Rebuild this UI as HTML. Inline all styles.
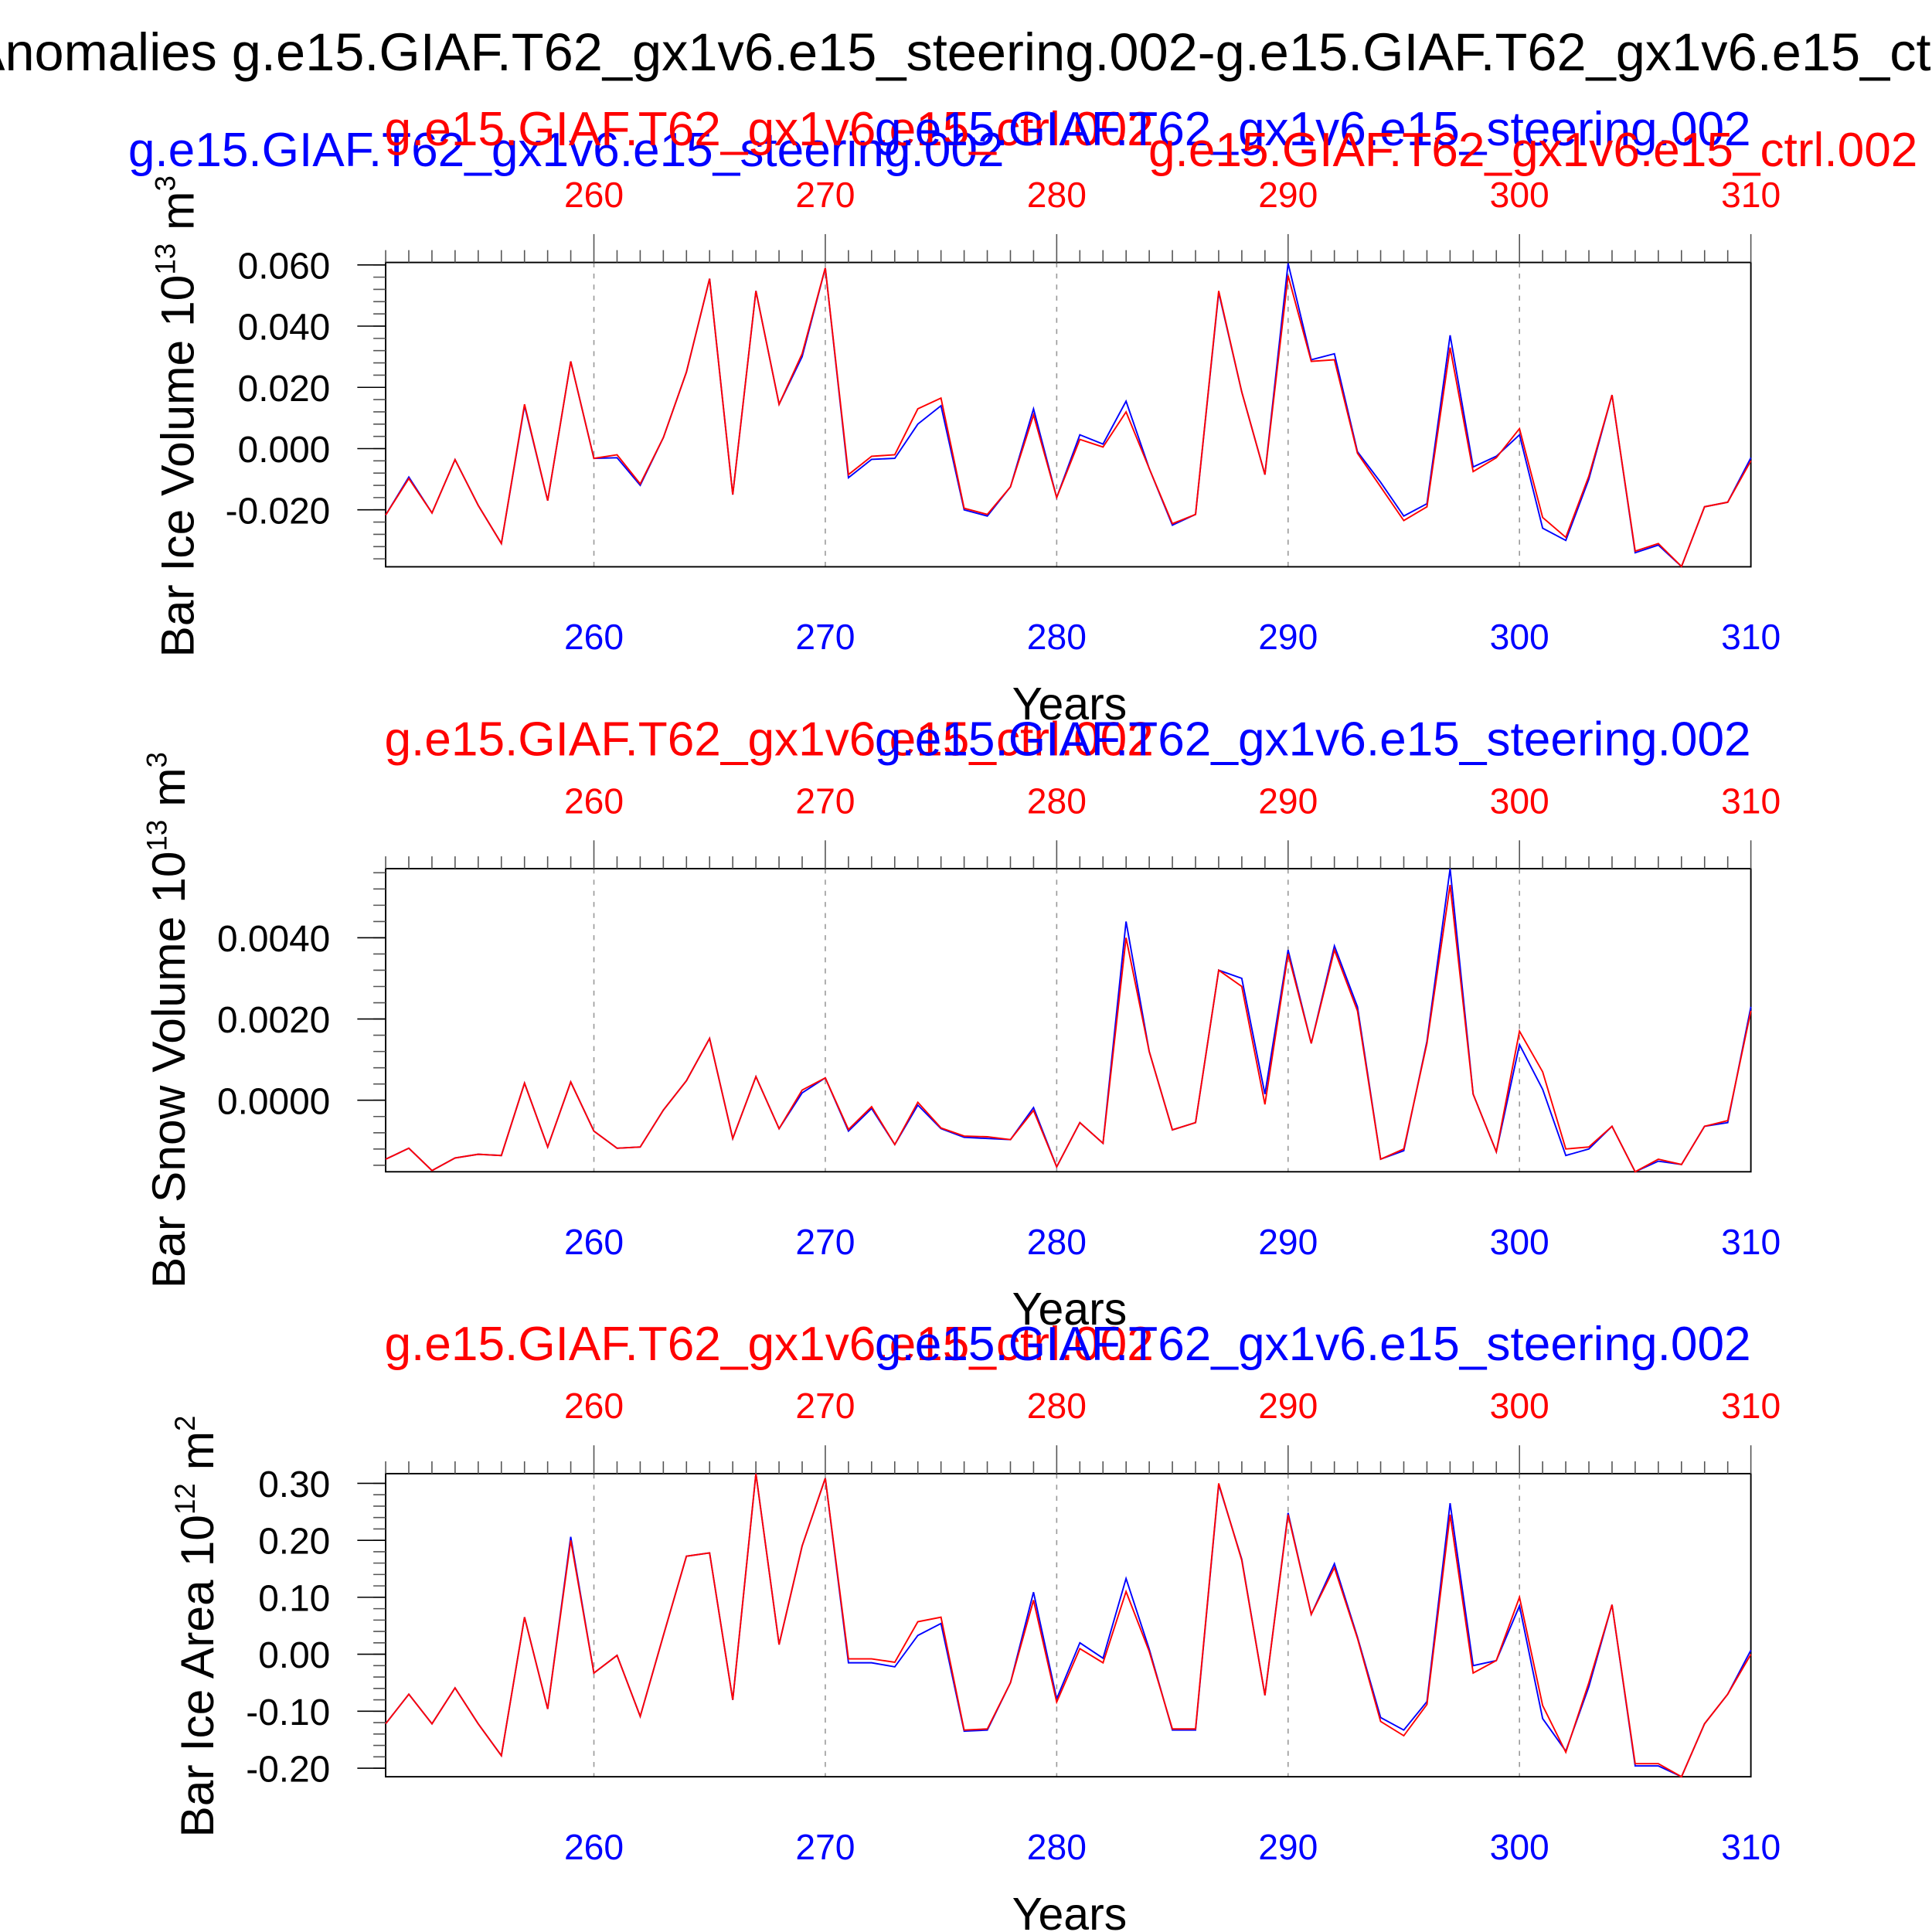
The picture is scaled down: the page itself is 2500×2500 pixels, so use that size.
<!DOCTYPE html>
<html><head><meta charset="utf-8"><style>
html,body{margin:0;padding:0;background:#fff}
svg{display:block}
text{font-family:"Liberation Sans",Arial,sans-serif}
</style></head><body>
<svg id="chart" width="2500" height="2500" viewBox="0 0 1568 1568" xmlns="http://www.w3.org/2000/svg">
<text x="825" y="57" font-size="43" text-anchor="middle">Anomalies g.e15.GIAF.T62_gx1v6.e15_steering.002-g.e15.GIAF.T62_gx1v6.e15_ctrl.002</text>
</svg>
<script>
const years = [];
for (let y = 251; y <= 310; y++) years.push(y);
const xTicks = [260, 270, 280, 290, 300, 310];

const iceVolBlue = [-0.0217,-0.0093,-0.021,-0.0036,-0.0185,-0.031,0.014,-0.017,0.0285,-0.0032,-0.003,-0.012,0.0036,0.025,0.0555,-0.015,0.0515,0.0145,0.03,0.059,-0.0095,-0.0035,-0.0032,0.008,0.014,-0.02,-0.022,-0.0125,0.013,-0.016,0.0045,0.0015,0.0155,-0.0065,-0.025,-0.0215,0.051,0.0185,-0.0085,0.0605,0.029,0.031,-0.001,-0.011,-0.022,-0.018,0.037,-0.006,-0.0025,0.0045,-0.026,-0.03,-0.01,0.0175,-0.034,-0.0315,-0.0385,-0.019,-0.0175,-0.003];
const iceVolRed = [-0.0217,-0.0098,-0.021,-0.0036,-0.0185,-0.031,0.0145,-0.017,0.0285,-0.0032,-0.002,-0.0115,0.0036,0.025,0.0555,-0.015,0.0515,0.0145,0.031,0.059,-0.0085,-0.0025,-0.002,0.013,0.0165,-0.0195,-0.0215,-0.0125,0.011,-0.016,0.003,0.0005,0.012,-0.0065,-0.0245,-0.0215,0.0515,0.0185,-0.0085,0.0565,0.0285,0.029,-0.0015,-0.0125,-0.0235,-0.019,0.033,-0.0075,-0.003,0.0065,-0.0225,-0.029,-0.009,0.0175,-0.0335,-0.031,-0.0385,-0.019,-0.0175,-0.004];

const snowVolBlue = [-0.00145,-0.00118,-0.00173,-0.00142,-0.00133,-0.00136,0.00042,-0.00115,0.00045,-0.00076,-0.00118,-0.00115,-0.00024,0.00048,0.00152,-0.00094,0.00058,-0.0007,0.00018,0.00055,-0.00076,-0.0002,-0.00109,-0.00012,-0.0007,-0.00091,-0.00094,-0.00097,-0.00018,-0.00164,-0.00055,-0.00106,0.0044,0.0012,-0.00073,-0.00055,0.0032,0.003,0.00015,0.0037,0.0014,0.0038,0.0023,-0.00145,-0.00124,0.00145,0.0057,0.00015,-0.00127,0.00137,0.00027,-0.00136,-0.0012,-0.00064,-0.00176,-0.0015,-0.00158,-0.00064,-0.00055,0.0023];
const snowVolRed = [-0.00145,-0.00118,-0.00173,-0.00142,-0.00133,-0.00136,0.00042,-0.00115,0.00045,-0.00076,-0.00118,-0.00115,-0.00024,0.00048,0.00152,-0.00094,0.00058,-0.0007,0.00025,0.00055,-0.00072,-0.00016,-0.00109,-0.00005,-0.00068,-0.00088,-0.0009,-0.00097,-0.00025,-0.00164,-0.00055,-0.00106,0.004,0.0012,-0.00073,-0.00055,0.0032,0.0028,-0.0001,0.0036,0.0014,0.0037,0.0022,-0.00145,-0.0012,0.0014,0.0053,0.00015,-0.00127,0.0017,0.0007,-0.0012,-0.00115,-0.00064,-0.00176,-0.00145,-0.00158,-0.00064,-0.0005,0.0022];

const iceAreaBlue = [-0.122,-0.07,-0.122,-0.059,-0.122,-0.178,0.065,-0.096,0.206,-0.033,-0.002,-0.109,0.033,0.172,0.178,-0.08,0.317,0.017,0.19,0.309,-0.015,-0.015,-0.022,0.033,0.054,-0.135,-0.133,-0.05,0.109,-0.078,0.02,-0.007,0.133,0.009,-0.133,-0.133,0.298,0.167,-0.072,0.248,0.07,0.159,0.03,-0.111,-0.133,-0.083,0.265,-0.02,-0.011,0.085,-0.113,-0.17,-0.057,0.087,-0.196,-0.196,-0.215,-0.122,-0.07,0.007];
const iceAreaRed = [-0.122,-0.07,-0.122,-0.059,-0.122,-0.178,0.065,-0.096,0.2,-0.033,-0.002,-0.109,0.033,0.172,0.178,-0.08,0.317,0.017,0.19,0.309,-0.008,-0.008,-0.014,0.057,0.065,-0.133,-0.131,-0.05,0.095,-0.084,0.01,-0.015,0.11,0.005,-0.131,-0.131,0.3,0.165,-0.072,0.245,0.07,0.152,0.028,-0.118,-0.143,-0.088,0.245,-0.033,-0.011,0.1,-0.09,-0.172,-0.05,0.087,-0.192,-0.192,-0.215,-0.122,-0.07,0.0];

const iceVolTicks = [-0.02, 0, 0.02, 0.04, 0.06];
const iceVolTickLabels = ["-0.020","0.000","0.020","0.040","0.060"];
const snowVolTicks = [0, 0.002, 0.004];
const snowVolTickLabels = ["0.0000","0.0020","0.0040"];
const iceAreaTicks = [-0.2,-0.1,0,0.1,0.2,0.3];
const iceAreaTickLabels = ["-0.20","-0.10","0.00","0.10","0.20","0.30"];

const NS = "http://www.w3.org/2000/svg";
const svg = document.getElementById('chart');
function mk(tag, attrs, parent) {
  const e = document.createElementNS(NS, tag);
  for (const k in attrs) e.setAttribute(k, attrs[k]);
  (parent || svg).appendChild(e);
  return e;
}
const X0 = 313, X1 = 1421, XMIN = 251, XMAX = 310;
function xs(v) { return X0 + (v - XMIN) / (XMAX - XMIN) * (X1 - X0); }

const panels = [
  {name:'ice-volume', top:213, bot:460, ymin:-0.0386, ymax:0.0608, ticks:iceVolTicks, labels:iceVolTickLabels, minor:0.004, blue:iceVolBlue, red:iceVolRed, ytitle:'Bar Ice Volume 10', exp:'13', unit:' m', uexp:'3', titleY:338, titleX:157, first:true},
  {name:'snow-volume', top:705, bot:951, ymin:-0.00176, ymax:0.0057, ticks:snowVolTicks, labels:snowVolTickLabels, minor:0.0004, blue:snowVolBlue, red:snowVolRed, ytitle:'Bar Snow Volume 10', exp:'13', unit:' m', uexp:'3', titleY:828, titleX:150},
  {name:'ice-area', top:1196, bot:1442, ymin:-0.215, ymax:0.317, ticks:iceAreaTicks, labels:iceAreaTickLabels, minor:0.02, blue:iceAreaBlue, red:iceAreaRed, ytitle:'Bar Ice Area 10', exp:'12', unit:' m', uexp:'2', titleY:1320, titleX:173}
];

panels.forEach(p => {
  const g = mk('g', {});
  
  
  const ys = v => p.bot - (v - p.ymin) / (p.ymax - p.ymin) * (p.bot - p.top);
  xTicks.forEach(t => {
    if (t >= XMAX) return;
    const l = mk('line', {x1:xs(t), x2:xs(t), y1:p.top, y2:p.bot, stroke:'#999', 'stroke-width':1, 'stroke-dasharray':'4,5'}, g);
    
    
  });
  const r = mk('rect', {x:X0, y:p.top, width:X1-X0, height:p.bot-p.top, fill:'none', stroke:'#000', 'stroke-width':1.2}, g);
  
  
  years.forEach(yr => {
    const major = xTicks.indexOf(yr) >= 0;
    mk('line', {x1:xs(yr), x2:xs(yr), y1:p.top, y2:p.top - (major ? 23 : 10), stroke:'#555', 'stroke-width':1}, g);
  });
  xTicks.forEach(t => {
    const tt = mk('text', {x:xs(t), y:p.top - 45, 'font-size':29, fill:'#f00', 'text-anchor':'middle'}, g);
    tt.textContent = t;
    
    
    const tb = mk('text', {x:xs(t), y:p.bot + 67, 'font-size':29, fill:'#00f', 'text-anchor':'middle'}, g);
    tb.textContent = t;
    
    
  });
  for (let v = Math.ceil(p.ymin / p.minor) * p.minor; v <= p.ymax + 1e-12; v += p.minor) {
    mk('line', {x1:X0, x2:X0 - 10, y1:ys(v), y2:ys(v), stroke:'#555', 'stroke-width':1}, g);
  }
  p.ticks.forEach((t, i) => {
    mk('line', {x1:X0, x2:X0 - 23, y1:ys(t), y2:ys(t), stroke:'#000', 'stroke-width':1}, g);
    const tl = mk('text', {x:268, y:ys(t) + 11, 'font-size':30, 'text-anchor':'end'}, g);
    tl.textContent = p.labels[i];
    
    
  });
  const yt = mk('text', {x:0, y:0, 'font-size':38, 'text-anchor':'middle', transform:`translate(${p.titleX},${p.titleY}) rotate(-90)`}, g);
  
  
  yt.appendChild(document.createTextNode(p.ytitle));
  const s1 = mk('tspan', {dy:-15, 'font-size':23}, yt); s1.textContent = p.exp;
  const s2 = mk('tspan', {dy:15}, yt); s2.textContent = p.unit;
  const s3 = mk('tspan', {dy:-15, 'font-size':23}, yt); s3.textContent = p.uexp;
  const xt = mk('text', {x:868, y:p.bot + 124, 'font-size':37, 'text-anchor':'middle'}, g);
  xt.textContent = 'Years';
  
  
  if (p.first) {
    const a = mk('text', {x:104, y:p.top - 78, 'font-size':39, fill:'#00f'}, g); a.textContent = 'g.e15.GIAF.T62_gx1v6.e15_steering.002';
     
    const b = mk('text', {x:312, y:p.top - 95, 'font-size':39, fill:'#f00'}, g); b.textContent = 'g.e15.GIAF.T62_gx1v6.e15_ctrl.002';
     
    const c = mk('text', {x:1421, y:p.top - 95, 'font-size':39, fill:'#00f', 'text-anchor':'end'}, g); c.textContent = 'g.e15.GIAF.T62_gx1v6.e15_steering.002';
     
    const d = mk('text', {x:932, y:p.top - 78, 'font-size':39, fill:'#f00'}, g); d.textContent = 'g.e15.GIAF.T62_gx1v6.e15_ctrl.002';
     
  } else {
    const b = mk('text', {x:312, y:p.top - 92, 'font-size':39, fill:'#f00'}, g); b.textContent = 'g.e15.GIAF.T62_gx1v6.e15_ctrl.002';
     
    const c = mk('text', {x:1421, y:p.top - 92, 'font-size':39, fill:'#00f', 'text-anchor':'end'}, g); c.textContent = 'g.e15.GIAF.T62_gx1v6.e15_steering.002';
     
  }
  const pts = arr => arr.map((v, i) => xs(years[i]).toFixed(1) + ',' + ys(v).toFixed(1)).join(' ');
  const lb = mk('polyline', {points:pts(p.blue), fill:'none', stroke:'#00f', 'stroke-width':1.2}, g);
  
  
  const lr = mk('polyline', {points:pts(p.red), fill:'none', stroke:'#f00', 'stroke-width':1.2}, g);
  
  
});
</script>
</body></html>
